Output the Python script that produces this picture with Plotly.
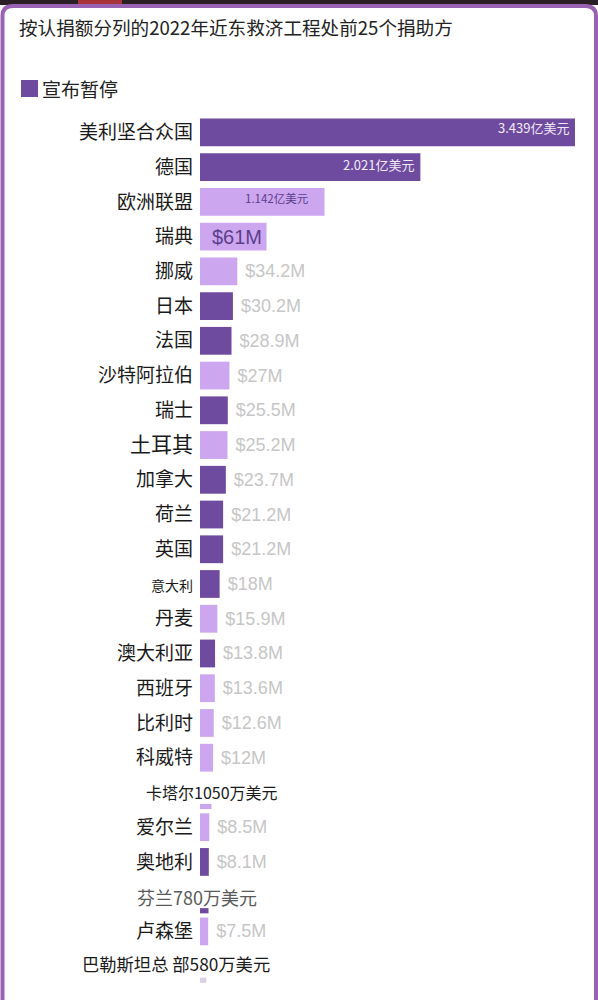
import plotly.graph_objects as go

# ---------------- data ----------------
countries = ["美利坚合众国", "德国", "欧洲联盟", "瑞典", "挪威", "日本", "法国", "沙特阿拉伯",
             "瑞士", "土耳其", "加拿大", "荷兰", "英国", "意大利", "丹麦", "澳大利亚", "西班牙",
             "比利时", "科威特", "卡塔尔", "爱尔兰", "奥地利", "芬兰", "卢森堡", "巴勒斯坦总 部"]
values_musd = [343.9, 202.1, 114.2, 61, 34.2, 30.2, 28.9, 27, 25.5, 25.2, 23.7, 21.2, 21.2,
               18, 15.9, 13.8, 13.6, 12.6, 12, 10.5, 8.5, 8.1, 7.8, 7.5, 5.8]
suspended = [1, 1, 0, 0, 0, 1, 1, 0, 1, 0, 1, 1, 1, 1, 0, 1, 0, 0, 0, 0, 0, 1, 1, 0, 0]
inside_labels = {0: "3.439亿美元", 1: "2.021亿美元", 2: "1.142亿美元", 3: "$61M"}
caption_rows = {19: "卡塔尔1050万美元", 22: "芬兰780万美元", 24: "巴勒斯坦总 部580万美元"}

title = "按认捐额分列的2022年近东救济工程处前25个捐助方"
legend_label = "宣布暂停"

DARK = "#6f4b9f"
LIGHT = "#cda6f0"
CJK = "Noto Sans CJK SC"
LATIN = "Liberation Sans, Arial"

W, H = 598, 1000
L, R, T, B = 200, 23, 115, 13
PW, PH = W - L - R, H - T - B


def px_x(x):
    return (x - L) / PW


def px_y(y):
    return 1 - (y - T) / PH


n = len(countries)
ypos = list(range(n))
thin = [i in caption_rows for i in ypos]
widths = [0.15 if t else 0.8 for t in thin]
offsets = [0.33 if t else -0.4 for t in thin]
colors = [DARK if s else LIGHT for s in suspended]
colors[24] = "#d9cfe6"

out_text = []
for i, v in enumerate(values_musd):
    if i in inside_labels or i in caption_rows:
        out_text.append("")
    else:
        out_text.append(f" ${v:g}M")

tick_text = []
for i, c in enumerate(countries):
    if i in caption_rows:
        tick_text.append("")
    elif c == "意大利":
        tick_text.append(f'<span style="font-size:14px">{c}</span>')
    elif c == "土耳其":
        tick_text.append(f'<span style="font-size:21px">{c}</span>')
    else:
        tick_text.append(c)

fig = go.Figure()
fig.add_trace(go.Bar(
    orientation="h",
    x=values_musd,
    y=ypos,
    width=widths,
    offset=offsets,
    marker=dict(color=colors, line=dict(width=0)),
    text=out_text,
    textposition="outside",
    constraintext="none",
    textangle=0,
    textfont=dict(family=LATIN, size=18, color="#c6c6c6"),
    cliponaxis=False,
    showlegend=False,
    hoverinfo="skip",
))

annotations = []
# inside labels on the largest bars
inside_style = {
    0: dict(size=13, color="#f1eaf8", family=CJK, xshift=-4, yshift=5),
    1: dict(size=13, color="#f1eaf8", family=CJK, xshift=-4, yshift=3),
    2: dict(size=11.5, color="#5b3f8c", family=CJK, xshift=-14, yshift=4),
    3: dict(size=20, color="#5b3f8c", family=LATIN, xshift=-3, yshift=0),
}
for i, lab in inside_labels.items():
    st = inside_style[i]
    annotations.append(dict(
        x=values_musd[i], y=i, xref="x", yref="y", text=lab, showarrow=False,
        xanchor="right", yanchor="middle", xshift=st["xshift"], yshift=st["yshift"],
        font=dict(family=st["family"], size=st["size"], color=st["color"]),
    ))

# caption rows (name + amount written above a thin bar)
caption_style = {
    19: dict(cx=212, size=16, color="#1a1a1a", yshift=0),
    22: dict(cx=197, size=18, color="#5a5a5a", yshift=0),
    24: dict(cx=176, size=17.3, color="#1a1a1a", yshift=3),
}
for i, lab in caption_rows.items():
    st = caption_style[i]
    annotations.append(dict(
        x=px_x(st["cx"]), y=i, xref="paper", yref="y", text=lab, showarrow=False,
        xanchor="center", yanchor="middle", yshift=st["yshift"],
        font=dict(family=CJK, size=st["size"], color=st["color"]),
    ))

# title
annotations.append(dict(
    x=px_x(17), y=px_y(27), xref="paper", yref="paper", text=title, showarrow=False,
    xanchor="left", yanchor="middle", font=dict(family=CJK, size=18.6, color="#222222"),
))
# legend text
annotations.append(dict(
    x=px_x(40), y=px_y(88), xref="paper", yref="paper", text=legend_label, showarrow=False,
    xanchor="left", yanchor="middle", font=dict(family=CJK, size=19, color="#222222"),
))

shapes = [
    # legend swatch
    dict(type="rect", xref="paper", yref="paper", x0=px_x(21), x1=px_x(38), y0=px_y(80), y1=px_y(97),
         fillcolor=DARK, line=dict(width=0)),
    # top dark band and red tab
    dict(type="rect", xref="paper", yref="paper", x0=px_x(0), x1=px_x(W), y0=px_y(0), y1=px_y(5),
         fillcolor="#2a1f24", line=dict(width=0), layer="above"),
    dict(type="rect", xref="paper", yref="paper", x0=px_x(78), x1=px_x(122), y0=px_y(0), y1=px_y(5),
         fillcolor="#a8343a", line=dict(width=0), layer="above"),
    # card border
    dict(type="path", xref="paper", yref="paper",
         path=(f"M {px_x(2.5)},{px_y(H)} L {px_x(2.5)},{px_y(16)} "
               f"Q {px_x(2.5)},{px_y(6)} {px_x(13)},{px_y(6)} "
               f"L {px_x(W - 13)},{px_y(6)} Q {px_x(W - 2)},{px_y(6)} {px_x(W - 2)},{px_y(16)} "
               f"L {px_x(W - 2)},{px_y(H)}"),
         line=dict(color="#9a62b3", width=4), layer="above"),
]

fig.update_layout(
    width=W, height=H,
    margin=dict(l=L, r=R, t=T, b=B),
    paper_bgcolor="white", plot_bgcolor="white",
    bargap=0.2,
    xaxis=dict(range=[0, 343.9], showgrid=False, zeroline=False, showticklabels=False,
               showline=False, fixedrange=True),
    yaxis=dict(range=[24.6, -0.5], tickmode="array", tickvals=ypos, ticktext=tick_text,
               showgrid=False, zeroline=False, showline=False, ticks="",
               ticklabelstandoff=6,
               tickfont=dict(family=CJK, size=19, color="#1a1a1a"), fixedrange=True),
    annotations=annotations,
    shapes=shapes,
    showlegend=False,
)

fig.write_html("out.html", config={"displayModeBar": False},
               post_script="document.body.style.margin='0';document.body.style.overflow='hidden';")
